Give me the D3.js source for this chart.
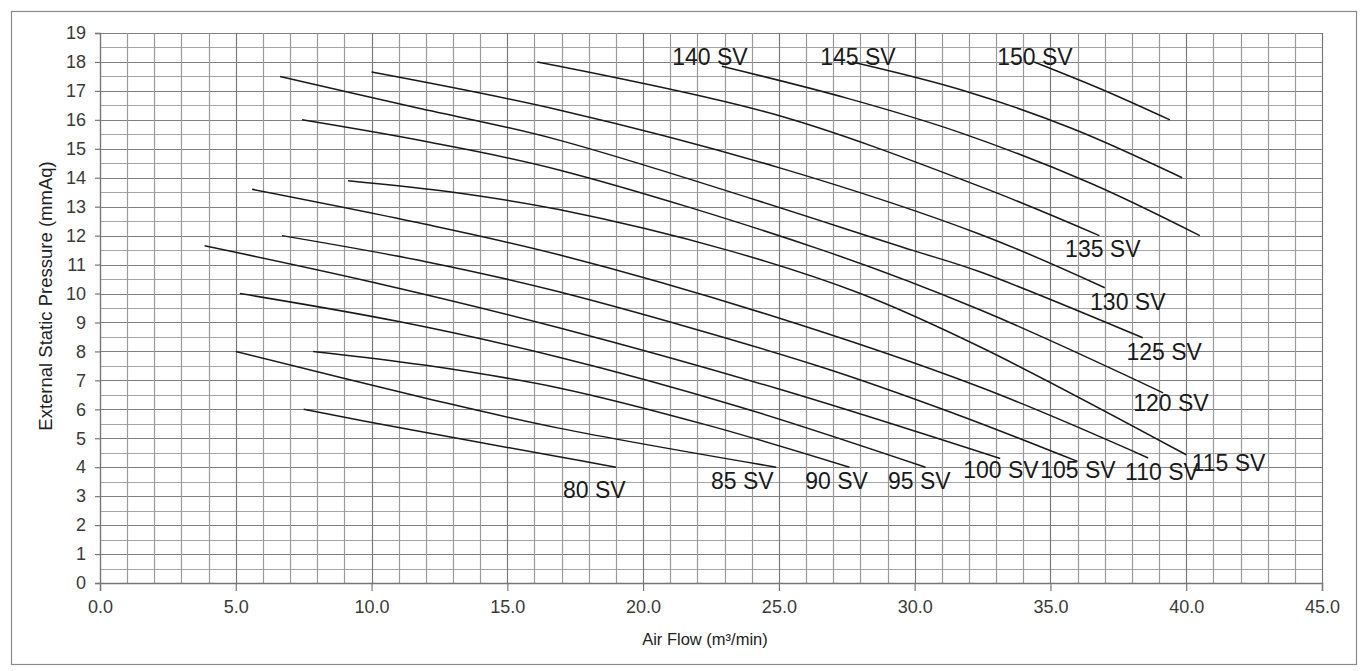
<!DOCTYPE html>
<html>
<head>
<meta charset="utf-8">
<script src="https://cdn.jsdelivr.net/npm/d3@7"></script>
<style>
  html, body { margin: 0; padding: 0; background: #fff; }
  svg { display: block; }
</style>
</head>
<body>
<svg id="chart" width="1360" height="671"></svg>
<script>
// ---------- data ----------
const xTicks = [0, 5, 10, 15, 20, 25, 30, 35, 40, 45];
const yTicks = [0, 1, 2, 3, 4, 5, 6, 7, 8, 9, 10, 11, 12, 13, 14, 15, 16, 17, 18, 19];
const seriesNames = ["80 SV", "85 SV", "90 SV", "95 SV", "100 SV", "105 SV", "110 SV", "115 SV",
                     "120 SV", "125 SV", "130 SV", "135 SV", "140 SV", "145 SV", "150 SV"];
const sv80  = [[7.5, 6.0], [11.05, 5.36], [16.9, 4.36], [19.0, 4.0]];
const sv85  = [[5.0, 8.0], [12.15, 6.35], [16.9, 5.35], [24.9, 4.0]];
const sv90  = [[7.85, 8.0], [12.0, 7.52], [16.9, 6.74], [22.5, 5.42], [27.6, 4.0]];
const sv95  = [[5.15, 10.0], [11.0, 9.03], [16.9, 7.8], [23.5, 6.1], [30.4, 4.0]];
const sv100 = [[3.85, 11.65], [10.0, 10.4], [16.9, 8.82], [25.0, 6.7], [33.15, 4.3]];
const sv105 = [[6.7, 12.0], [12.0, 11.1], [16.9, 10.06], [26.5, 7.48], [31.5, 5.84], [36.0, 4.2]];
const sv110 = [[5.6, 13.6], [11.7, 12.45], [16.9, 11.34], [24.5, 9.3], [32.4, 6.77], [38.6, 4.32]];
const sv115 = [[9.13, 13.9], [13.0, 13.5], [16.9, 12.9], [23.1, 11.5], [28.0, 10.0], [32.4, 8.16], [40.0, 4.43]];
const sv120 = [[7.44, 16.0], [12.0, 15.25], [16.9, 14.27], [26.6, 11.5], [32.4, 9.44], [39.15, 6.57]];
const sv125 = [[6.63, 17.5], [11.5, 16.45], [16.9, 15.3], [29.9, 11.5], [32.4, 10.75], [38.4, 8.47]];
const sv130 = [[10.0, 17.65], [16.9, 16.34], [25.0, 14.35], [32.4, 12.05], [37.0, 10.2]];
const sv135 = [[16.1, 18.0], [24.8, 16.2], [32.4, 13.7], [36.8, 12.0]];
const sv140 = [[22.9, 17.85], [27.5, 16.75], [31.7, 15.55], [36.5, 13.8], [40.5, 12.0]];
const sv145 = [[27.7, 18.0], [31.7, 17.04], [35.8, 15.7], [39.85, 14.0]];
const sv150 = [[34.4, 18.0], [36.9, 17.05], [39.4, 16.0]];
const seriesValues = [sv80, sv85, sv90, sv95, sv100, sv105, sv110, sv115, sv120, sv125, sv130, sv135, sv140, sv145, sv150];
// label anchor (start of text, baseline) in data units
const labelAt = [[17.05, 2.95], [22.5, 3.26], [25.97, 3.26], [29.02, 3.26], [31.79, 3.64], [34.62, 3.64],
                 [37.75, 3.57], [40.2, 3.88], [38.05, 5.95], [37.8, 7.71], [36.46, 9.44], [35.54, 11.27],
                 [21.07, 17.9], [26.52, 17.9], [33.04, 17.9]];
const xTitle = "Air Flow (m³/min)";
const yTitle = "External Static Pressure (mmAq)";

// ---------- layout ----------
const svg = d3.select("#chart");
const L = 100, R = 1322, T = 33, B = 583;
const x = d3.scaleLinear().domain([0, 45]).range([L, R]);
const y = d3.scaleLinear().domain([0, 19]).range([B, T]);
const font = "'Liberation Sans', Arial, sans-serif";

// outer frame
svg.append("rect").attr("x", 11.5).attr("y", 11.5).attr("width", 1345).attr("height", 653)
  .attr("fill", "none").attr("stroke", "#8a8a8a").attr("stroke-width", 1.2);

// grid
const g = svg.append("g");
g.selectAll(".hg").data(d3.range(0, 19.01, 0.5)).enter().append("line")
  .attr("x1", L).attr("x2", R).attr("y1", d => Math.round(y(d)) + 0.5).attr("y2", d => Math.round(y(d)) + 0.5)
  .attr("stroke", d => Number.isInteger(d) ? "#808080" : "#a6a6a6").attr("stroke-width", 1.2);
g.selectAll(".vg").data(d3.range(1, 45.01, 1)).enter().append("line")
  .attr("y1", T).attr("y2", B).attr("x1", d => Math.round(x(d)) + 0.5).attr("x2", d => Math.round(x(d)) + 0.5)
  .attr("stroke", d => d % 5 === 0 ? "#7a7a7a" : "#9a9a9a").attr("stroke-width", 1.2);

// axes
const xAxis = svg.append("g").attr("transform", `translate(0,${B})`)
  .call(d3.axisBottom(x).tickValues(xTicks).tickFormat(d3.format(".1f")).tickSize(8).tickPadding(9));
const yAxis = svg.append("g").attr("transform", `translate(${L},0)`)
  .call(d3.axisLeft(y).tickValues(yTicks).tickFormat(d3.format("d")).tickSize(5).tickPadding(9));
[xAxis, yAxis].forEach(a => {
  a.select(".domain").attr("stroke", "#777").attr("stroke-width", 1.4);
  a.selectAll(".tick line").attr("stroke", "#777").attr("stroke-width", 1.2);
  a.selectAll(".tick text").attr("fill", "#3a3a3a").style("font-family", font).style("font-size", "18px");
});

// curves
const line = d3.line().x(d => x(d[0])).y(d => y(d[1])).curve(d3.curveCatmullRom.alpha(0.5));
svg.append("g").selectAll("path").data(seriesValues).enter().append("path")
  .attr("d", line).attr("fill", "none").attr("stroke", "#1a1a1a").attr("stroke-width", 1.5);

// curve labels
svg.append("g").selectAll("text").data(seriesNames).enter().append("text")
  .attr("x", (d, i) => x(labelAt[i][0])).attr("y", (d, i) => y(labelAt[i][1]))
  .attr("fill", "#1a1a1a").style("font-family", font).style("font-size", "23px")
  .text(d => d);

// titles
svg.append("text").attr("x", 705).attr("y", 645).attr("text-anchor", "middle")
  .attr("fill", "#222").style("font-family", font).style("font-size", "16.5px").text(xTitle);
svg.append("text").attr("transform", "translate(52,296) rotate(-90)").attr("text-anchor", "middle")
  .attr("fill", "#222").style("font-family", font).style("font-size", "18.5px").text(yTitle);
</script>
</body>
</html>
